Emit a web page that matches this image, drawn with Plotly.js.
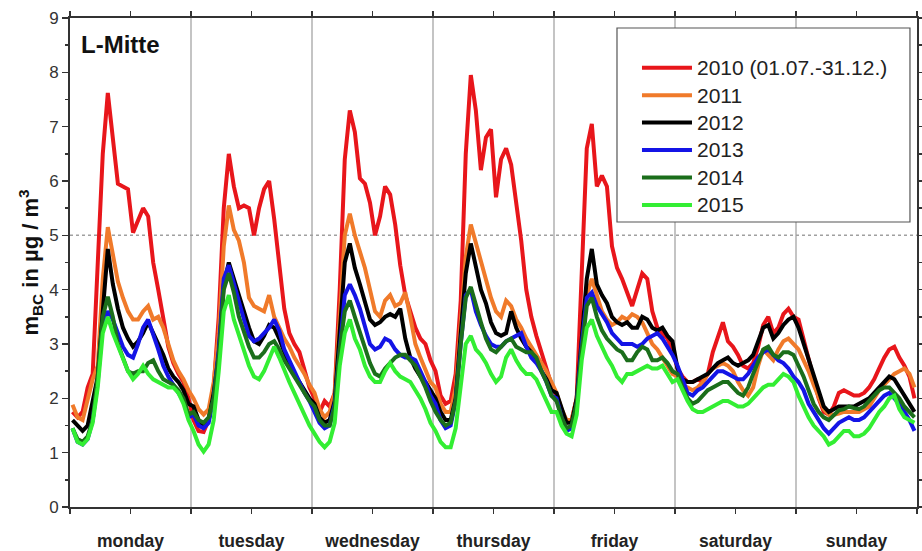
<!DOCTYPE html>
<html>
<head>
<meta charset="utf-8">
<script src="https://cdn.plot.ly/plotly-3.0.1.min.js"></script>
<style>html,body{margin:0;padding:0;background:#fff;}#chart{width:922px;height:551px;}</style>
</head>
<body>
<div id="chart"></div>
<script>
// Weekdays (category labels)
const days = ['monday','tuesday','wednesday','thursday','friday','saturday','sunday'];
// Series names
const seriesNames = ['2010 (01.07.-31.12.)','2011','2012','2013','2014','2015'];
const seriesColors = ['#e8161b','#f07a2a','#000000','#1414e6','#1b6e1b','#33ee33'];

// Hourly mean black-carbon mass concentration (µg/m³), 24 values per day, Monday..Sunday
const m2010 = [
 1.75,1.65,1.75,2.2,2.45,4.5,6.5,7.62,6.7,5.95,5.9,5.85,5.05,5.3,5.5,5.35,4.5,4.0,3.5,2.95,2.65,2.45,2.3,2.0,
 1.6,1.4,1.38,1.6,2.2,3.5,5.5,6.5,5.9,5.5,5.55,5.5,5.0,5.5,5.85,6.0,5.3,4.4,3.65,3.2,3.0,2.85,2.5,2.2,
 2.0,1.75,1.95,1.85,2.1,4.0,6.4,7.3,6.9,6.05,5.95,5.6,5.0,5.35,5.9,5.75,5.2,4.45,3.9,3.6,3.3,3.1,3.0,2.7,
 2.5,2.05,1.9,1.95,2.45,3.8,6.5,7.95,7.3,6.2,6.8,6.95,5.7,6.4,6.6,6.3,5.6,4.9,4.0,3.5,3.15,2.85,2.55,2.25,
 2.05,1.75,1.55,1.6,2.0,4.5,6.6,7.05,5.9,6.1,5.9,4.8,4.4,4.2,3.95,3.7,4.0,4.3,4.2,3.6,3.3,3.2,3.1,2.9,
 2.55,2.4,2.3,2.3,2.35,2.3,2.45,2.85,3.15,3.4,3.05,2.95,2.8,2.6,2.55,2.65,2.95,3.35,3.5,3.2,3.3,3.55,3.65,3.5,
 3.45,3.1,2.75,2.35,2.0,1.75,1.7,1.85,2.1,2.15,2.1,2.05,2.05,2.1,2.2,2.35,2.55,2.75,2.9,2.95,2.75,2.6,2.4,2.0
];
const m2011 = [
 1.88,1.65,1.6,2.0,2.35,2.6,4.2,5.15,4.6,4.15,3.85,3.6,3.45,3.45,3.6,3.7,3.45,3.5,3.3,3.0,2.7,2.5,2.35,2.15,
 2.0,1.8,1.7,1.8,2.3,3.2,4.8,5.55,5.1,4.9,4.5,3.85,3.7,3.65,3.6,3.9,3.5,3.3,3.1,2.95,2.75,2.6,2.45,2.25,
 2.1,1.8,1.65,1.75,2.1,3.5,5.0,5.4,5.0,4.7,4.4,4.0,3.6,3.5,3.8,3.9,3.7,3.75,3.95,3.5,3.0,2.75,2.5,2.3,
 2.2,1.9,1.75,1.75,2.2,3.4,4.6,5.2,4.85,4.5,4.15,3.85,3.6,3.5,3.8,3.7,3.45,3.3,3.1,2.95,2.8,2.65,2.5,2.3,
 2.1,1.8,1.6,1.6,2.0,3.0,3.9,4.2,3.9,3.6,3.45,3.35,3.4,3.5,3.45,3.55,3.5,3.4,3.2,3.0,2.9,2.75,2.6,2.45,
 2.4,2.25,2.2,2.15,2.2,2.3,2.45,2.55,2.6,2.65,2.6,2.5,2.3,2.15,2.05,2.2,2.6,2.9,2.8,2.7,2.9,3.05,3.1,3.0,
 2.9,2.7,2.5,2.25,2.0,1.8,1.7,1.7,1.72,1.75,1.75,1.75,1.75,1.8,1.85,2.0,2.15,2.25,2.35,2.45,2.5,2.55,2.45,2.2
];
const m2012 = [
 1.6,1.5,1.4,1.5,2.0,2.4,3.6,4.75,4.1,3.65,3.3,3.1,2.95,3.05,3.2,3.4,3.2,3.0,2.8,2.55,2.4,2.3,2.15,1.9,
 1.85,1.6,1.5,1.6,2.1,2.8,4.1,4.5,4.2,3.85,3.55,3.3,3.05,3.0,3.15,3.35,3.3,3.1,2.85,2.6,2.45,2.3,2.15,2.0,
 1.9,1.65,1.55,1.6,1.95,3.2,4.5,4.85,4.4,4.1,3.75,3.45,3.35,3.4,3.5,3.55,3.5,3.65,3.1,2.75,2.55,2.4,2.3,2.15,
 2.0,1.75,1.6,1.6,2.0,3.2,4.3,4.85,4.4,4.0,3.75,3.4,3.2,3.15,3.2,3.6,3.3,3.1,2.95,2.85,2.7,2.5,2.35,2.15,
 2.1,1.8,1.55,1.55,2.0,3.1,4.2,4.75,4.1,3.9,3.75,3.5,3.4,3.35,3.4,3.3,3.3,3.5,3.45,3.3,3.25,3.3,3.15,3.05,
 2.55,2.35,2.3,2.3,2.35,2.4,2.45,2.55,2.65,2.7,2.75,2.65,2.6,2.65,2.7,2.8,3.05,3.3,3.35,3.1,3.2,3.35,3.45,3.5,
 3.3,3.0,2.7,2.4,2.1,1.85,1.75,1.8,1.85,1.85,1.85,1.85,1.9,1.95,2.0,2.1,2.2,2.3,2.4,2.35,2.2,2.05,1.9,1.75
];
const m2013 = [
 1.45,1.2,1.15,1.25,1.6,2.3,3.4,3.6,3.45,3.2,2.95,2.8,2.75,3.0,3.3,3.45,3.2,2.9,2.6,2.4,2.25,2.1,1.95,1.65,
 1.7,1.5,1.45,1.55,2.0,2.9,4.2,4.45,4.1,3.8,3.45,3.15,3.05,3.1,3.2,3.3,3.45,3.25,2.9,2.7,2.5,2.3,2.1,1.95,
 1.75,1.55,1.45,1.5,1.9,3.0,3.9,4.1,3.9,3.65,3.3,3.0,2.9,2.95,3.1,3.05,2.9,2.8,2.75,2.75,2.7,2.5,2.3,2.05,
 1.9,1.6,1.45,1.5,1.95,3.0,3.9,4.0,3.6,3.35,3.15,3.0,2.95,2.95,3.05,3.1,3.15,3.2,2.95,2.75,2.65,2.5,2.3,2.05,
 2.0,1.65,1.4,1.45,1.9,3.0,3.85,3.95,3.7,3.55,3.4,3.2,3.1,3.0,3.0,3.0,2.95,3.0,3.1,3.15,3.2,3.1,2.95,2.8,
 2.6,2.35,2.1,2.05,2.15,2.2,2.3,2.4,2.5,2.5,2.45,2.4,2.35,2.35,2.45,2.6,2.75,2.85,2.9,2.8,2.7,2.65,2.55,2.4,
 2.3,2.15,1.9,1.75,1.6,1.45,1.35,1.45,1.55,1.6,1.65,1.6,1.6,1.65,1.75,1.85,1.95,2.05,2.1,2.0,1.9,1.75,1.6,1.4
];
const m2014 = [
 1.45,1.25,1.2,1.3,1.6,2.4,3.5,3.87,3.5,3.0,2.75,2.5,2.45,2.5,2.5,2.65,2.7,2.5,2.35,2.3,2.25,2.15,2.0,1.7,
 1.75,1.6,1.55,1.65,2.0,2.8,4.0,4.3,3.95,3.5,3.2,2.95,2.75,2.75,2.85,3.0,3.05,2.9,2.7,2.55,2.4,2.25,2.1,1.95,
 1.85,1.6,1.5,1.5,1.85,2.9,3.6,3.8,3.5,3.2,2.9,2.65,2.45,2.4,2.55,2.65,2.75,2.8,2.8,2.7,2.6,2.4,2.2,1.95,
 1.75,1.6,1.5,1.55,1.95,3.0,3.85,4.05,3.7,3.4,3.1,2.9,2.85,2.95,3.05,3.1,2.95,2.9,2.85,2.85,2.75,2.5,2.3,2.05,
 1.95,1.65,1.45,1.5,1.9,2.9,3.7,3.85,3.5,3.25,3.1,3.0,2.9,2.85,2.7,2.7,2.85,2.95,2.9,2.7,2.7,2.75,2.65,2.5,
 2.45,2.2,2.0,1.9,1.95,2.05,2.15,2.2,2.25,2.3,2.3,2.2,2.1,2.05,2.2,2.45,2.7,2.9,2.95,2.8,2.75,2.85,2.85,2.8,
 2.6,2.4,2.15,1.9,1.75,1.65,1.6,1.7,1.78,1.8,1.85,1.82,1.8,1.85,1.95,2.05,2.15,2.2,2.2,2.1,2.0,1.85,1.75,1.65
];
const m2015 = [
 1.45,1.2,1.15,1.25,1.55,2.2,3.2,3.5,3.2,2.95,2.7,2.5,2.35,2.45,2.6,2.45,2.35,2.3,2.25,2.2,2.2,2.1,1.9,1.6,
 1.4,1.15,1.02,1.15,1.6,2.5,3.6,3.9,3.45,3.15,2.85,2.6,2.4,2.35,2.5,2.75,2.95,2.75,2.5,2.3,2.1,1.9,1.7,1.5,
 1.35,1.2,1.1,1.2,1.55,2.6,3.2,3.45,3.1,2.9,2.6,2.4,2.3,2.3,2.5,2.65,2.5,2.4,2.35,2.3,2.15,2.0,1.8,1.55,
 1.4,1.2,1.1,1.1,1.45,2.3,3.0,3.15,2.9,2.8,2.65,2.45,2.3,2.4,2.75,2.9,2.7,2.55,2.45,2.45,2.35,2.15,1.95,1.75,
 1.75,1.5,1.35,1.3,1.7,2.7,3.3,3.45,3.15,2.95,2.75,2.6,2.4,2.3,2.45,2.45,2.5,2.55,2.6,2.55,2.55,2.6,2.45,2.3,
 2.35,2.15,1.95,1.8,1.75,1.75,1.8,1.85,1.9,1.95,1.95,1.9,1.85,1.85,1.9,2.0,2.1,2.2,2.25,2.25,2.35,2.45,2.4,2.3,
 2.05,1.85,1.65,1.5,1.4,1.3,1.15,1.2,1.3,1.4,1.4,1.3,1.3,1.35,1.45,1.6,1.75,1.85,2.0,2.05,1.8,1.65,1.6,1.55
];
const seriesValues = [m2010, m2011, m2012, m2013, m2014, m2015];
const limitValue = 5;

// hour-of-week (centre of each hourly interval)
const hoursPerDay = 24;
const hourOfWeek = m2010.map((_, i) => i + 0.5);

const traces = seriesValues.map((vals, k) => ({
  type: 'scatter', mode: 'lines',
  x: hourOfWeek, y: vals,
  name: '<span style="font-size:21px">' + seriesNames[k] + '</span>',
  line: {color: seriesColors[k], width: 4},
  hoverinfo: 'skip'
}));

// day labels centred on each day (noon)
const dayCentres = days.map((_, d) => d * hoursPerDay + hoursPerDay / 2);
const dayLabels = days.map(d => '<b>' + d + '</b>');

const shapes = [];
for (let d = 1; d < days.length; d++) {
  shapes.push({type: 'line', layer: 'below', xref: 'x', yref: 'paper',
    x0: d * hoursPerDay, x1: d * hoursPerDay, y0: 0, y1: 1,
    line: {color: '#b0b0b0', width: 1.5}});
}
shapes.push({type: 'line', layer: 'below', xref: 'paper', yref: 'y',
  x0: 0, x1: 1, y0: limitValue, y1: limitValue,
  line: {color: '#a0a0a0', width: 1.5, dash: 'dot'}});
shapes.push({type: 'rect', layer: 'below', xref: 'paper', yref: 'paper',
  x0: 0.6458, x1: 0.9917, y0: 0.5828, y1: 0.9796,
  fillcolor: '#ffffff', line: {color: '#555555', width: 1.2}});

const font = 'Liberation Sans, Arial, sans-serif';
const layout = {
  width: 922, height: 551,
  margin: {l: 70, r: 5, t: 18, b: 44},
  paper_bgcolor: '#ffffff', plot_bgcolor: '#ffffff',
  font: {family: font, color: '#222'},
  showlegend: true,
  legend: {x: 0.6694, y: 0.9366, xanchor: 'left', yanchor: 'top',
    bgcolor: 'rgba(0,0,0,0)', borderwidth: 0,
    font: {family: font, size: 18.8, color: '#222'},
    tracegroupgap: 0, itemwidth: 50},
  xaxis: {range: [0, days.length * hoursPerDay], tickmode: 'array',
    tickvals: dayCentres, ticktext: dayLabels,
    ticks: 'outside', ticklen: 5, tickwidth: 1.5, tickcolor: '#333',
    minor: {tick0: 0, dtick: hoursPerDay / 2, ticks: 'outside', ticklen: 5, tickwidth: 1.5, tickcolor: '#333'},
    showline: true, linecolor: '#333', linewidth: 2, mirror: 'ticks',
    showgrid: false, zeroline: false, ticklabelstandoff: 12,
    tickfont: {family: font, size: 17.5, color: '#222'}},
  yaxis: {range: [0, 9], tickmode: 'linear', tick0: 0, dtick: 1,
    ticks: 'outside', ticklen: 6, tickwidth: 1.5, tickcolor: '#333',
    minor: {dtick: 0.5, ticks: 'outside', ticklen: 3, tickcolor: '#333', tickwidth: 1.5},
    showline: true, linecolor: '#333', linewidth: 2, mirror: 'ticks',
    showgrid: false, zeroline: false,
    tickfont: {family: font, size: 17, color: '#333'},
    title: {text: '<b>m<sub>BC</sub> in µg / m<sup>3</sup></b>', standoff: 4,
      font: {family: font, size: 22, color: '#111'}}},
  shapes: shapes,
  annotations: [{xref: 'paper', yref: 'paper', x: 0.011, y: 0.945,
    xanchor: 'left', yanchor: 'middle', showarrow: false,
    text: '<b>L-Mitte</b>', font: {family: font, size: 24, color: '#111'}}]
};

Plotly.newPlot('chart', traces, layout, {displayModeBar: false, staticPlot: true});
</script>
</body>
</html>
